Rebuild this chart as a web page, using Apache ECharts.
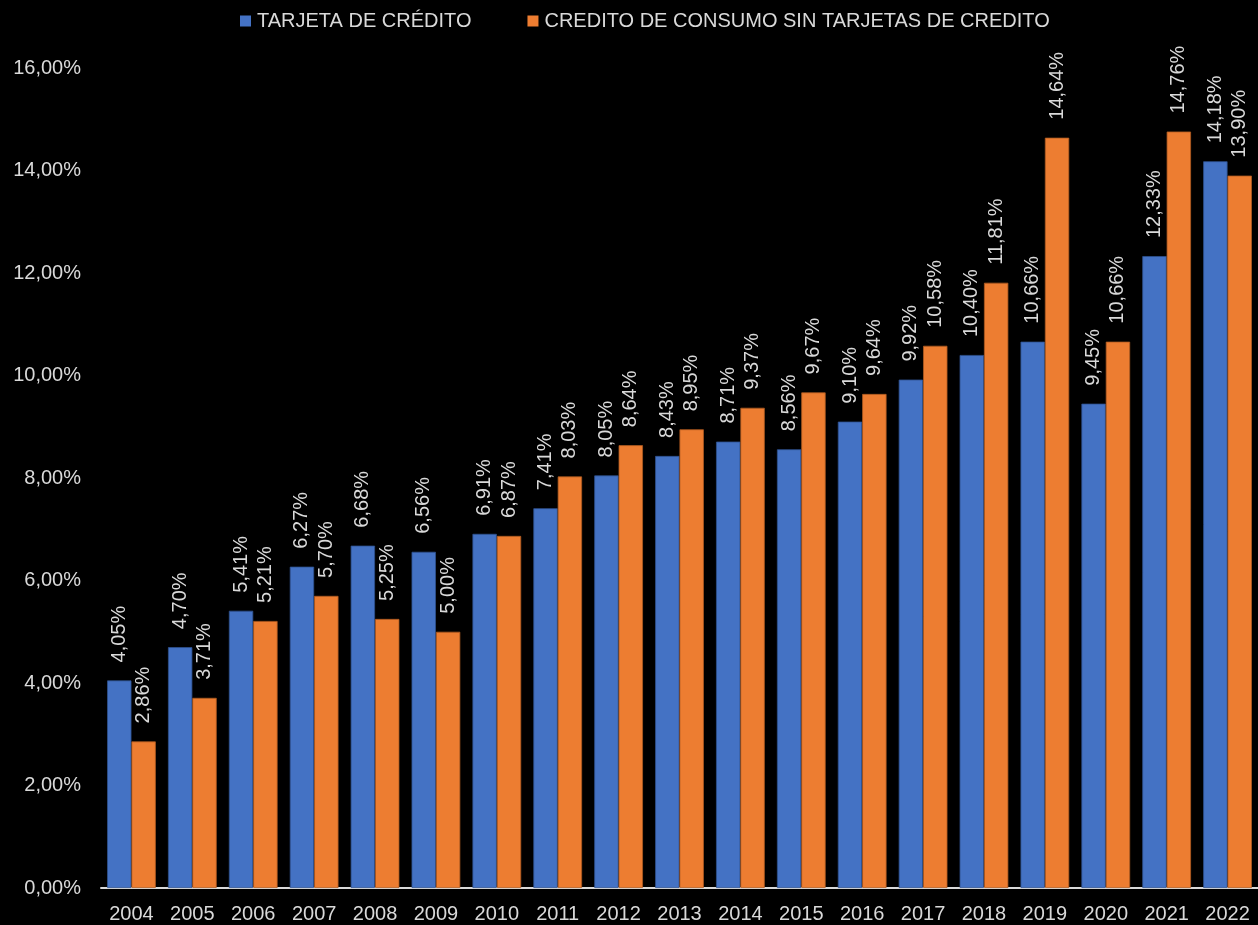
<!DOCTYPE html>
<html>
<head>
<meta charset="utf-8">
<script src="https://cdn.jsdelivr.net/npm/echarts@6/dist/echarts.min.js"></script>
<style>
html,body{margin:0;padding:0;background:#000;}
#chart{width:1258px;height:925px;}
</style>
</head>
<body>
<div id="chart"></div>
<script>
const categories = ['2004','2005','2006','2007','2008','2009','2010','2011','2012','2013','2014','2015','2016','2017','2018','2019','2020','2021','2022'];
const seriesNames = ['TARJETA DE CRÉDITO', 'CREDITO DE CONSUMO SIN TARJETAS DE CREDITO'];
const tarjeta = [4.05, 4.70, 5.41, 6.27, 6.68, 6.56, 6.91, 7.41, 8.05, 8.43, 8.71, 8.56, 9.10, 9.92, 10.40, 10.66, 9.45, 12.33, 14.18];
const consumo = [2.86, 3.71, 5.21, 5.70, 5.25, 5.00, 6.87, 8.03, 8.64, 8.95, 9.37, 9.67, 9.64, 10.58, 11.81, 14.64, 10.66, 14.76, 13.90];

const FONT = '"Liberation Sans", Arial, sans-serif';
const TXT = '#d9d9d9';
const fmt = v => v.toFixed(2).replace('.', ',') + '%';

const chart = echarts.init(document.getElementById('chart'), null, {renderer: 'canvas'});
const labelCfg = {
  show: true,
  position: 'top',
  distance: 18,
  rotate: 90,
  align: 'left',
  verticalAlign: 'middle',
  color: TXT,
  fontFamily: FONT,
  fontSize: 20,
  formatter: p => fmt(p.value)
};
chart.setOption({
  backgroundColor: '#000',
  animation: false,
  legend: {
    top: 6,
    left: 235,
    icon: 'rect',
    itemWidth: 11,
    itemHeight: 11,
    itemGap: 56,
    itemStyle: {borderWidth: 0},
    textStyle: {color: TXT, fontFamily: FONT, fontSize: 20, padding: [0, 0, 0, 1]},
    data: seriesNames
  },
  grid: {left: 101, top: 68, width: 1159, height: 820, containLabel: false},
  xAxis: {
    type: 'category',
    data: categories,
    axisLine: {show: true, lineStyle: {color: '#d9d9d9', width: 2}},
    axisTick: {show: false},
    axisLabel: {color: TXT, fontFamily: FONT, fontSize: 20, margin: 16}
  },
  yAxis: {
    type: 'value',
    min: 0,
    max: 16,
    interval: 2,
    splitLine: {show: false},
    axisLine: {show: false},
    axisTick: {show: false},
    axisLabel: {color: TXT, fontFamily: FONT, fontSize: 20, margin: 20, formatter: v => v.toFixed(2).replace('.', ',') + '%'}
  },
  series: [
    {
      name: seriesNames[0],
      type: 'bar',
      data: tarjeta,
      barGap: '0%',
      barCategoryGap: '20%',
      itemStyle: {color: '#4472C4', borderColor: '#2F528F', borderWidth: 0.8},
      label: labelCfg
    },
    {
      name: seriesNames[1],
      type: 'bar',
      data: consumo,
      barGap: '0%',
      barCategoryGap: '20%',
      itemStyle: {color: '#ED7D31', borderColor: '#AE5A21', borderWidth: 0.8},
      label: labelCfg
    }
  ]
});
</script>
</body>
</html>
